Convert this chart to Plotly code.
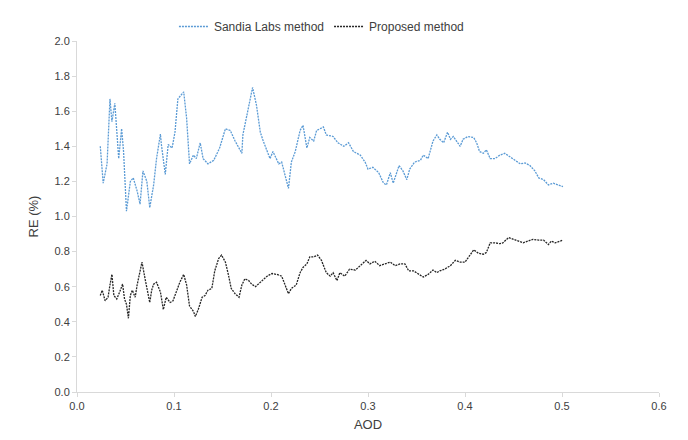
import plotly.graph_objects as go

# AOD values and relative error (%) for the Sandia Labs method
sandia_aod = [0.024, 0.027, 0.031, 0.034, 0.036, 0.039, 0.043, 0.046, 0.048, 0.051,
              0.055, 0.058, 0.062, 0.065, 0.068, 0.072, 0.075, 0.079, 0.082, 0.086,
              0.087, 0.091, 0.094, 0.098, 0.101, 0.104, 0.110, 0.113, 0.116, 0.120,
              0.123, 0.127, 0.130, 0.135, 0.141, 0.147, 0.153, 0.158, 0.163, 0.170,
              0.171, 0.177, 0.181, 0.185, 0.189, 0.192, 0.199, 0.202, 0.208, 0.211,
              0.214, 0.218, 0.221, 0.225, 0.230, 0.233, 0.237, 0.240, 0.244, 0.247,
              0.254, 0.257, 0.264, 0.269, 0.275, 0.280, 0.285, 0.292, 0.297, 0.300,
              0.305, 0.311, 0.316, 0.319, 0.323, 0.326, 0.332, 0.336, 0.340, 0.343,
              0.348, 0.354, 0.357, 0.362, 0.367, 0.371, 0.374, 0.378, 0.382, 0.385,
              0.388, 0.391, 0.395, 0.398, 0.403, 0.409, 0.412, 0.415, 0.419, 0.422,
              0.426, 0.431, 0.436, 0.441, 0.446, 0.452, 0.457, 0.462, 0.467, 0.472,
              0.476, 0.481, 0.486, 0.491, 0.496, 0.501]
sandia_re = [1.40, 1.19, 1.30, 1.67, 1.54, 1.645, 1.33, 1.50, 1.37, 1.03,
             1.20, 1.22, 1.145, 1.07, 1.26, 1.20, 1.05, 1.18, 1.33, 1.47,
             1.41, 1.24, 1.41, 1.39, 1.48, 1.67, 1.71, 1.56, 1.30, 1.35,
             1.33, 1.42, 1.33, 1.30, 1.32, 1.39, 1.50, 1.49, 1.43, 1.36,
             1.465, 1.635, 1.735, 1.635, 1.48, 1.43, 1.33, 1.37, 1.30, 1.31,
             1.24, 1.16, 1.31, 1.37, 1.49, 1.52, 1.39, 1.45, 1.43, 1.49,
             1.51, 1.465, 1.456, 1.42, 1.40, 1.42, 1.37, 1.35, 1.31, 1.27,
             1.28, 1.25, 1.19, 1.18, 1.25, 1.19, 1.29, 1.26, 1.21, 1.27,
             1.31, 1.32, 1.35, 1.33, 1.43, 1.465, 1.44, 1.42, 1.48, 1.44,
             1.456, 1.43, 1.40, 1.44, 1.456, 1.45, 1.42, 1.37, 1.36, 1.38,
             1.33, 1.33, 1.35, 1.36, 1.34, 1.32, 1.30, 1.305, 1.29, 1.26,
             1.22, 1.21, 1.18, 1.19, 1.18, 1.17]

# AOD values and relative error (%) for the proposed method
proposed_aod = [0.024, 0.026, 0.029, 0.032, 0.034, 0.036, 0.038, 0.041, 0.044, 0.047,
                0.049, 0.051, 0.053, 0.055, 0.057, 0.060, 0.062, 0.065, 0.067, 0.070,
                0.072, 0.075, 0.077, 0.079, 0.082, 0.086, 0.089, 0.092, 0.096, 0.099,
                0.103, 0.106, 0.110, 0.113, 0.116, 0.120, 0.122, 0.125, 0.129, 0.132,
                0.135, 0.139, 0.142, 0.146, 0.149, 0.153, 0.156, 0.159, 0.163, 0.167,
                0.170, 0.173, 0.177, 0.180, 0.184, 0.187, 0.192, 0.196, 0.201, 0.206,
                0.211, 0.214, 0.218, 0.221, 0.226, 0.230, 0.233, 0.237, 0.240, 0.244,
                0.248, 0.252, 0.257, 0.261, 0.264, 0.268, 0.271, 0.276, 0.281, 0.287,
                0.292, 0.298, 0.302, 0.307, 0.312, 0.318, 0.323, 0.328, 0.333, 0.338,
                0.342, 0.347, 0.352, 0.357, 0.362, 0.367, 0.371, 0.374, 0.379, 0.385,
                0.390, 0.395, 0.400, 0.405, 0.409, 0.414, 0.419, 0.422, 0.426, 0.431,
                0.436, 0.439, 0.445, 0.450, 0.455, 0.460, 0.465, 0.470, 0.476, 0.481,
                0.486, 0.489, 0.493, 0.498, 0.501]
proposed_re = [0.55, 0.58, 0.52, 0.54, 0.61, 0.67, 0.55, 0.53, 0.57, 0.615,
               0.53, 0.50, 0.42, 0.55, 0.58, 0.54, 0.61, 0.69, 0.74, 0.65,
               0.60, 0.51, 0.58, 0.615, 0.625, 0.57, 0.47, 0.54, 0.51, 0.52,
               0.58, 0.625, 0.67, 0.61, 0.49, 0.46, 0.43, 0.47, 0.54, 0.55,
               0.58, 0.59, 0.69, 0.76, 0.78, 0.74, 0.67, 0.59, 0.56, 0.54,
               0.61, 0.645, 0.635, 0.615, 0.60, 0.615, 0.635, 0.66, 0.675, 0.67,
               0.66, 0.615, 0.56, 0.59, 0.61, 0.68, 0.71, 0.73, 0.77, 0.77,
               0.78, 0.75, 0.68, 0.66, 0.68, 0.635, 0.68, 0.66, 0.70, 0.695,
               0.72, 0.75, 0.73, 0.745, 0.72, 0.73, 0.74, 0.72, 0.73, 0.73,
               0.69, 0.69, 0.67, 0.655, 0.67, 0.695, 0.68, 0.69, 0.70, 0.72,
               0.75, 0.74, 0.74, 0.78, 0.81, 0.79, 0.785, 0.795, 0.85, 0.85,
               0.845, 0.85, 0.88, 0.87, 0.86, 0.85, 0.86, 0.87, 0.865, 0.865,
               0.84, 0.86, 0.85, 0.86, 0.865]

x_ticks = [0.0, 0.1, 0.2, 0.3, 0.4, 0.5, 0.6]
y_ticks = [0.0, 0.2, 0.4, 0.6, 0.8, 1.0, 1.2, 1.4, 1.6, 1.8, 2.0]

fig = go.Figure()
fig.add_trace(go.Scatter(
    x=sandia_aod, y=sandia_re, mode="lines", name="Sandia Labs method",
    line=dict(color="#5b9bd5", width=1.3, dash="2px,1px"),
))
fig.add_trace(go.Scatter(
    x=proposed_aod, y=proposed_re, mode="lines", name="Proposed method",
    line=dict(color="#262626", width=1.3, dash="2px,1px"),
))

axis_common = dict(
    showgrid=False, zeroline=False, showline=True, linecolor="#d9d9d9", linewidth=1,
    ticks="outside", ticklen=4, tickcolor="#d9d9d9",
    tickfont=dict(family="Liberation Sans, Arial, sans-serif", size=11, color="#404040"),
    title_font=dict(family="Liberation Sans, Arial, sans-serif", size=13, color="#404040"),
)

fig.update_layout(
    width=688, height=440,
    margin=dict(l=77, r=29, t=39, b=48),
    paper_bgcolor="white", plot_bgcolor="white",
    showlegend=True,
    legend=dict(
        orientation="h", x=0.42, xanchor="center", y=1.0, yanchor="bottom",
        font=dict(family="Liberation Sans, Arial, sans-serif", size=12, color="#404040"),
        itemwidth=30, bgcolor="rgba(0,0,0,0)",
    ),
    xaxis=dict(range=[0, 0.6], tickvals=x_ticks, tickformat=".1f",
               title=dict(text="AOD", standoff=8), **axis_common),
    yaxis=dict(range=[0, 2.0], tickvals=y_ticks, tickformat=".1f",
               title=dict(text="RE (%)", standoff=12), **axis_common),
)

fig.write_html("out.html")
